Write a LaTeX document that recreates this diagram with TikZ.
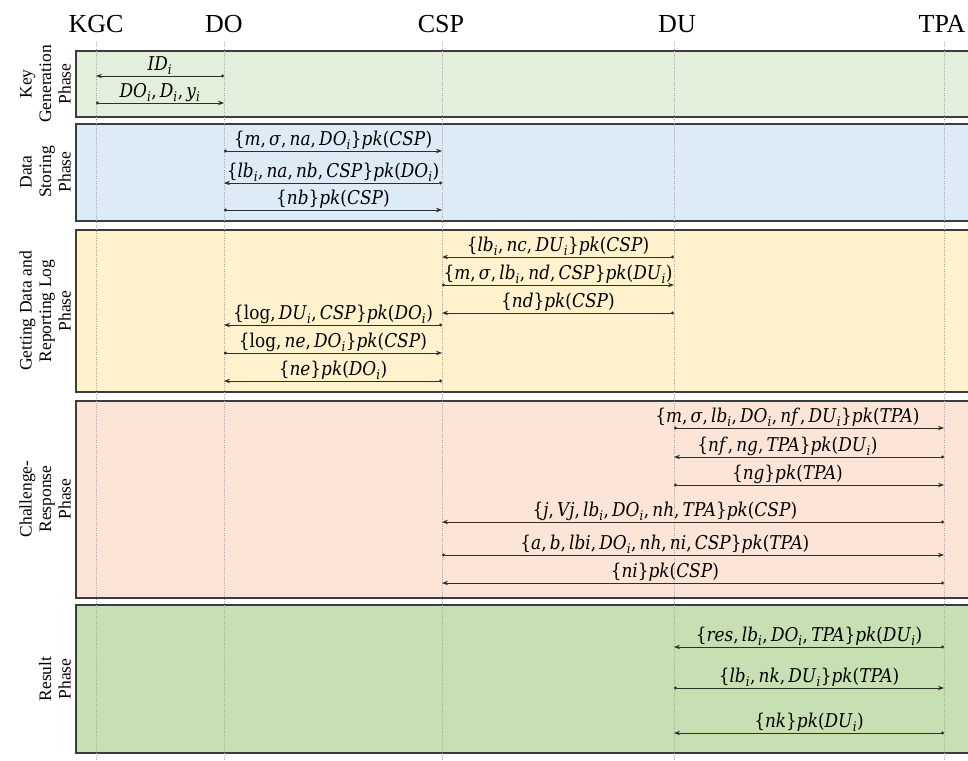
\documentclass[tikz,border=0pt]{standalone}
\usepackage{fontspec}
\setmainfont{Liberation Serif}
\newfontfamily\msgfont[FakeStretch=0.89]{DejaVu Serif}
\usetikzlibrary{arrows.meta}

\definecolor{kgfill}{HTML}{E2EFDA}
\definecolor{dsfill}{HTML}{DDEBF7}
\definecolor{gdfill}{HTML}{FFF2CC}
\definecolor{crfill}{HTML}{FCE4D6}
\definecolor{rsfill}{HTML}{C6E0B4}
\definecolor{boxline}{HTML}{3C3C3C}
\definecolor{lifegray}{HTML}{A8A8A8}
\definecolor{msgline}{HTML}{2E2E2E}

% italic variable and subscript i
\newcommand\vi[1]{\textit{#1}}
\newcommand\si{\textsubscript{\textit{i}}}
\newcommand\cc{,\,}

% one message between two lifelines at height #2
\newcommand\msg[5][0.5]{%
  \draw[msgarrow] (#3 |- 0,#2) -- node[pos=#1,lbl]{#5} (#4 |- 0,#2);}

\begin{document}
\begin{tikzpicture}[x=1pt,y=-1pt,
  phasebox/.style={draw=boxline,line width=1.2pt},
  lifeline/.style={draw=lifegray,line width=0.6pt,dash pattern=on 1pt off 1.2pt},
  msgarrow/.style={draw=msgline,line width=0.9pt,
    {Circle[length=3pt]}-{Stealth[length=6pt,width=4.5pt]}},
  lbl/.style={above,inner sep=1pt,text=black,
    font=\msgfont\fontsize{19}{22}\selectfont},
  title/.style={font=\fontsize{26}{30}\selectfont,inner sep=0pt},
  phaselbl/.style={rotate=90,anchor=south,align=center,inner sep=0pt,
    font=\fontsize{17.5}{19.5}\selectfont}]

\useasboundingbox (0,0) rectangle (968,760);
\begin{scope}
\clip (0,0) rectangle (968,760);

% phase bands
\path[phasebox,fill=kgfill] (76,51)  rectangle (990,117);
\path[phasebox,fill=dsfill] (76,124) rectangle (990,221);
\path[phasebox,fill=gdfill] (76,230) rectangle (990,392);
\path[phasebox,fill=crfill] (76,401) rectangle (990,598);
\path[phasebox,fill=rsfill] (76,605) rectangle (990,753);

% phase names
\node[phaselbl] (pkg) at (71,84)  {Key\\Generation\\Phase};
\node[phaselbl] (pds) at (71,172) {Data\\Storing\\Phase};
\node[phaselbl] (pgd) at (71,311) {Getting Data and\\Reporting Log\\Phase};
\node[phaselbl] (pcr) at (71,499) {Challenge-\\Response\\Phase};
\node[phaselbl] (prs) at (71,679) {Result\\Phase};

% participants and lifelines
\node[title,anchor=base] (tKGC) at (96,33)  {KGC};
\node[title,anchor=base] (tDO)  at (224,33) {DO};
\node[title,anchor=base] (tCSP) at (441,33) {CSP};
\node[title,anchor=base] (tDU)  at (677,33) {DU};
\node[title,anchor=base] (tTPA) at (942,33) {TPA};

\coordinate (KGC) at (96,42);
\coordinate (DO)  at (224,42);
\coordinate (CSP) at (442,42);
\coordinate (DU)  at (674,42);
\coordinate (TPA) at (944,42);
\foreach \p in {KGC,DO,CSP,DU,TPA}
  \draw[lifeline] (\p) -- (\p |- 0,762);

% key generation
\msg{76}{DO}{KGC}{\vi{ID}\si}
\msg{103}{KGC}{DO}{\vi{DO}\si\cc\vi{D}\si\cc\vi{y}\si}

% data storing
\msg{151}{DO}{CSP}{\{\vi{m}\cc\vi{σ}\cc\vi{na}\cc\vi{DO}\si\}\vi{pk}(\vi{CSP})}
\msg{183}{CSP}{DO}{\{\vi{lb}\si\cc\vi{na}\cc\vi{nb}\cc\vi{CSP}\}\vi{pk}(\vi{DO}\si)}
\msg{210}{DO}{CSP}{\{\vi{nb}\}\vi{pk}(\vi{CSP})}

% getting data and reporting log
\msg{257}{DU}{CSP}{\{\vi{lb}\si\cc\vi{nc}\cc\vi{DU}\si\}\vi{pk}(\vi{CSP})}
\msg{285}{CSP}{DU}{\{\vi{m}\cc\vi{σ}\cc\vi{lb}\si\cc\vi{nd}\cc\vi{CSP}\}\vi{pk}(\vi{DU}\si)}
\msg{313}{DU}{CSP}{\{\vi{nd}\}\vi{pk}(\vi{CSP})}
\msg{325}{CSP}{DO}{\{log\cc\vi{DU}\si\cc\vi{CSP}\}\vi{pk}(\vi{DO}\si)}
\msg{353}{DO}{CSP}{\{log\cc\vi{ne}\cc\vi{DO}\si\}\vi{pk}(\vi{CSP})}
\msg{381}{CSP}{DO}{\{\vi{ne}\}\vi{pk}(\vi{DO}\si)}

% challenge-response
\msg[0.42]{428}{DU}{TPA}{\{\vi{m}\cc\vi{σ}\cc\vi{lb}\si\cc\vi{DO}\si\cc\vi{nf}\cc\vi{DU}\si\}\vi{pk}(\vi{TPA})}
\msg[0.58]{457}{TPA}{DU}{\{\vi{nf}\cc\vi{ng}\cc\vi{TPA}\}\vi{pk}(\vi{DU}\si)}
\msg[0.42]{485}{DU}{TPA}{\{\vi{ng}\}\vi{pk}(\vi{TPA})}
\msg[0.556]{522}{TPA}{CSP}{\{\vi{j}\cc\vi{Vj}\cc\vi{lb}\si\cc\vi{DO}\si\cc\vi{nh}\cc\vi{TPA}\}\vi{pk}(\vi{CSP})}
\msg[0.444]{555}{CSP}{TPA}{\{\vi{a}\cc\vi{b}\cc\vi{lbi}\cc\vi{DO}\si\cc\vi{nh}\cc\vi{ni}\cc\vi{CSP}\}\vi{pk}(\vi{TPA})}
\msg[0.556]{583}{TPA}{CSP}{\{\vi{ni}\}\vi{pk}(\vi{CSP})}

% result
\msg{647}{TPA}{DU}{\{\vi{res}\cc\vi{lb}\si\cc\vi{DO}\si\cc\vi{TPA}\}\vi{pk}(\vi{DU}\si)}
\msg{688}{DU}{TPA}{\{\vi{lb}\si\cc\vi{nk}\cc\vi{DU}\si\}\vi{pk}(\vi{TPA})}
\msg{733}{TPA}{DU}{\{\vi{nk}\}\vi{pk}(\vi{DU}\si)}
\end{scope}
\end{tikzpicture}
\end{document}
